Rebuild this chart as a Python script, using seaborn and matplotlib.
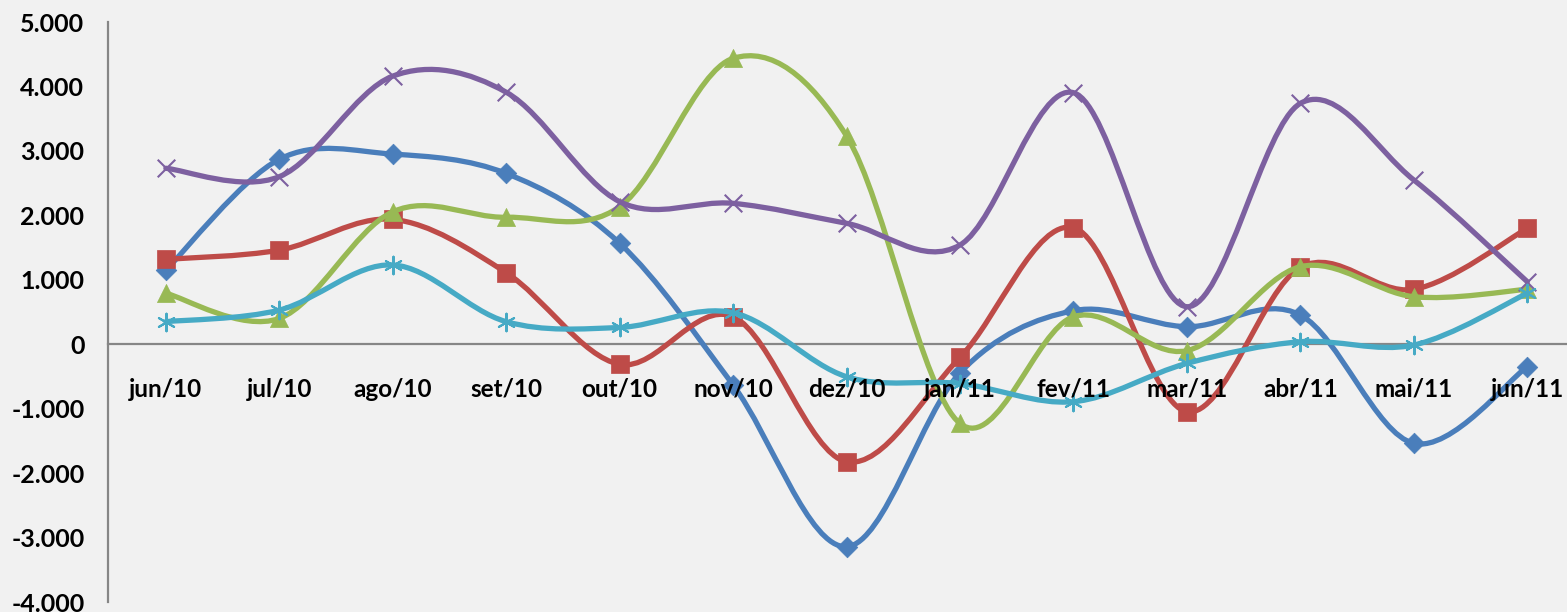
import numpy as np
import pandas as pd
import seaborn as sns
import matplotlib.pyplot as plt
from matplotlib.path import Path
from matplotlib.patches import PathPatch
from matplotlib.ticker import FuncFormatter

meses = ["jun/10", "jul/10", "ago/10", "set/10", "out/10", "nov/10", "dez/10",
         "jan/11", "fev/11", "mar/11", "abr/11", "mai/11", "jun/11"]

serie1 = [1150, 2870, 2950, 2650, 1566, -633, -3142, -442, 520, 272, 453, -1538, -349]
serie2 = [1317, 1460, 1937, 1110, -312, 427, -1823, -204, 1808, -1047, 1193, 852, 1798]
serie3 = [790, 400, 2055, 1970, 2134, 4436, 3231, -1230, 427, -100, 1203, 737, 852]
serie4 = [2730, 2600, 4160, 3910, 2212, 2186, 1876, 1540, 3903, 582, 3738, 2548, 970]
serie5 = [350, 530, 1230, 350, 260, 489, -504, -610, -892, -297, 39, -12, 790]

nomes = ["Série1", "Série2", "Série3", "Série4", "Série5"]
cores = ["#4A7EBB", "#BE4B48", "#98B954", "#7D60A0", "#46AAC5"]

df = pd.DataFrame({"mes": meses, "Série1": serie1, "Série2": serie2,
                   "Série3": serie3, "Série4": serie4, "Série5": serie5})
df["pos"] = np.arange(len(meses))

sns.set_style("white")
plt.rcParams["font.family"] = ["Lato", "DejaVu Sans"]

fig = plt.figure(figsize=(15.67, 6.12), dpi=100)
fig.patch.set_facecolor("#f1f1f1")
ax = fig.add_axes([108 / 1567, 10 / 612, 1 - 108 / 1567, 580 / 612])
ax.set_facecolor("#f1f1f1")


def curva_suave(xs, ys):
    # excel-like smoothed line as cubic bezier segments
    pts = np.column_stack([xs, ys]).astype(float)
    n = len(pts)
    verts = [tuple(pts[0])]
    codes = [Path.MOVETO]
    for i in range(n - 1):
        p0 = pts[max(i - 1, 0)]
        p1 = pts[i]
        p2 = pts[i + 1]
        p3 = pts[min(i + 2, n - 1)]
        c1 = p1 + (p2 - p0) / 6.0
        c2 = p2 - (p3 - p1) / 6.0
        verts += [tuple(c1), tuple(c2), tuple(p2)]
        codes += [Path.CURVE4] * 3
    return Path(verts, codes)


marcadores = ["D", "s", "^", "x", (6, 2, 0)]
tamanhos = [110, 150, 170, 160, 160]
larg_borda = [0.5, 0.5, 0.5, 1.5, 1.5]

for i, nome in enumerate(nomes):
    z = 2 + i
    patch = PathPatch(curva_suave(df["pos"], df[nome]), facecolor="none",
                      edgecolor=cores[i], lw=3.8, capstyle="round",
                      joinstyle="round", zorder=z)
    ax.add_patch(patch)
    sns.scatterplot(x=df["pos"], y=df[nome], marker=marcadores[i], s=tamanhos[i],
                    color=cores[i], edgecolor=cores[i], linewidth=larg_borda[i],
                    ax=ax, zorder=z + 0.5, legend=False)

ax.set_xlim(-0.51, 12.35)
ax.set_ylim(-4000, 5000)
ax.set_yticks(np.arange(-4000, 5001, 1000))
ax.yaxis.set_major_formatter(FuncFormatter(lambda v, p: f"{int(v):,}".replace(",", ".")))
ax.set_xticks(df["pos"])
ax.set_xticklabels(meses)
ax.set_xlabel("")
ax.set_ylabel("")

for s in ["top", "right"]:
    ax.spines[s].set_visible(False)
ax.spines["bottom"].set_position(("data", 0))
ax.spines["bottom"].set_color("#868686")
ax.spines["bottom"].set_linewidth(1.6)
ax.spines["left"].set_color("#868686")
ax.spines["left"].set_linewidth(1.6)
ax.spines["bottom"].set_zorder(1)

ax.tick_params(axis="x", length=0, pad=24, labelsize=17.5)
ax.tick_params(axis="y", length=0, pad=17, labelsize=18)
for lab in ax.get_xticklabels() + ax.get_yticklabels():
    lab.set_fontweight("bold")
    lab.set_color("black")
# month labels sit on top of the curves, like in the original
ax.xaxis.set_zorder(20)

fig.savefig("out.png", dpi=100, facecolor=fig.get_facecolor())
